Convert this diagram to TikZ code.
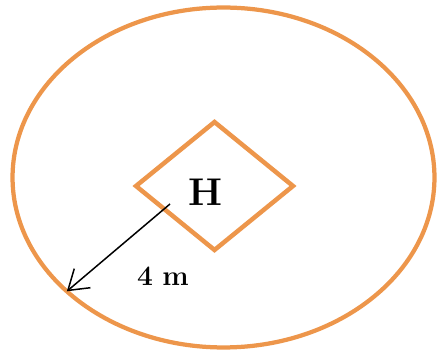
\documentclass[tikz,border=0pt]{standalone}
\definecolor{zoneorange}{RGB}{237,150,75}
\usepackage{tikz}
\usetikzlibrary{arrows.meta,positioning,shapes.geometric}

\begin{document}
\begin{tikzpicture}[x=0.02cm, y=-0.02cm,
      zone/.style={draw=zoneorange, ellipse, line width=0.085cm,
                   minimum width=8.44cm, minimum height=6.8cm,
                   inner sep=0pt, outer sep=0pt},
      pad/.style={draw=zoneorange, diamond, line width=0.09cm,
                  minimum width=3.14cm, minimum height=2.56cm,
                  inner sep=0pt, outer sep=0pt},
      lbl/.style={font=\bfseries, inner sep=0pt},
      arr/.style={-{Straight Barb[length=3.8mm, width=5mm]}, line width=0.85pt, color=black}
  ]
    \useasboundingbox (0,0) rectangle (439,354);
    \node[zone] (field) at (223.5,177.5) {};
    \node[pad] (pad) at (214.5,186) {};
    \node[lbl, font=\fontsize{22}{26}\selectfont\bfseries] (heli) at (206,192) {H};
    \coordinate (start) at (170,204);
    \node[lbl, font=\fontsize{16}{19}\selectfont\bfseries] (dist) at (163,276) {4\,\,m};
    \draw[arr] (start)--(field.216.6);
  \end{tikzpicture}
\end{document}
